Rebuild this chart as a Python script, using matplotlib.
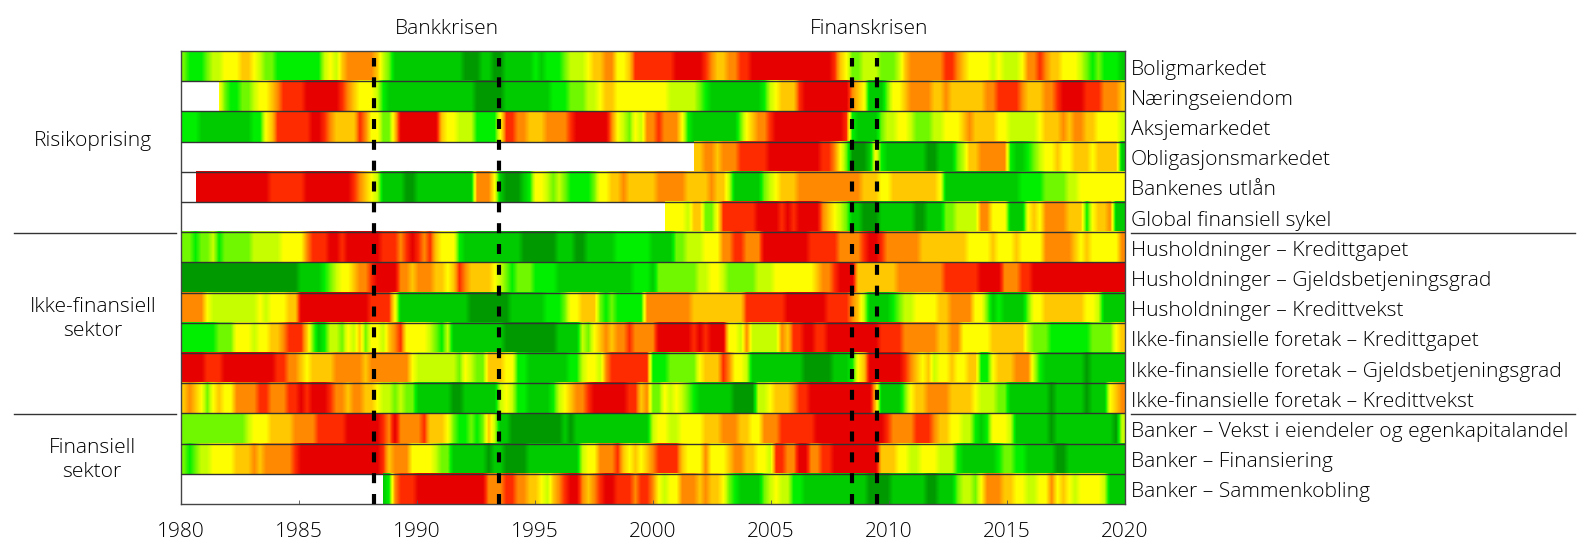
import numpy as np
import matplotlib
matplotlib.use('Agg')
import matplotlib.pyplot as plt
from matplotlib.colors import LinearSegmentedColormap
from matplotlib.lines import Line2D

plt.rcParams['font.family'] = ['Open Sans', 'DejaVu Sans']
plt.rcParams['font.weight'] = 'light'

n = np.nan

# quarterly heat values 1980-2019 plus the last sliver up to the 2020 edge, 0 = dark green ... 9 = dark red
boligmarkedet = [3,2,2,2, 3,4,4,5, 5,5,6,6, 5,4,3,3, 2,2,2,2, 2,2,2,2, 4,5,4,6, 7,7,7,7, 7,6,4,3, 1,1,1,1, 1,1,1,1, 1,1,1,1, 0,0,0,1, 1,0,0,1, 1,1,1,1, 2,1,2,2, 2,3,4,4, 4,5,6,6, 7,7,5,5, 6,8,8,8,
    8,8,8,8, 9,9,9,9, 9,8,7,6, 6,7,7,8, 8,9,9,9, 9,9,9,9, 9,9,9,9, 9,9,9,8, 6,5,3,3, 4,4,4,3, 3,3,4,6, 7,7,7,7, 7,7,8,8, 7,6,5,5, 5,5,4,5, 4,4,4,5, 7,7,8,7, 6,6,5,5, 5,4,3,2, 3,2,2,2, 1]
naeringseiendom = [n]*6 + [5,3, 2,2,3,3, 4,5,5,6, 7,8,8,8, 8,9,9,9, 9,9,9,8, 7,6,5,5, 5,4,2,1, 1,1,1,1, 1,1,1,1, 1,1,1,1, 1,1,0,0, 0,0,0,1, 1,1,1,1, 1,1,1,2, 2,2,3,3, 3,4,4,5, 6,6,5,5, 5,5,5,5,
    5,5,5,4, 4,4,4,4, 3,2,1,1, 1,1,1,1, 1,1,1,2, 4,5,6,6, 6,8,9,9, 9,9,9,9, 9,9,7,6, 5,1,1,1, 3,5,5,6, 7,7,7,7, 6,6,7,6, 6,6,6,6, 6,7,7,8, 8,8,8,7, 6,6,6,7, 7,8,9,9, 9,9,8,8, 8,7,7,7, 6]
aksjemarkedet = [2,2,2,1, 1,1,1,1, 1,1,1,1, 2,2,5,6, 8,8,8,8, 8,8,9,9, 8,7,6,6, 6,6,8,7, 5,5,3,3, 6,9,9,9, 9,9,9,9, 6,5,5,4, 4,4,2,2, 2,2,5,8, 8,7,7,6, 6,6,7,7, 7,7,8,9, 9,9,9,9, 9,7,5,4, 3,5,4,7,
    7,8,7,7, 7,5,2,1, 1,1,1,1, 1,1,1,3, 5,6,7,7, 8,9,9,9, 9,9,9,9, 9,9,9,9, 9,8,2,1, 1,1,1,3, 4,4,5,5, 4,3,3,3, 4,4,5,5, 5,6,7,6, 6,6,6,5, 5,4,4,4, 4,4,5,6, 6,6,7,6, 7,7,6,6, 5,5,5,5, 4]
obligasjonsmarkedet = [n]*87 + [6, 6,7,7,6, 7,7,7,8, 8,8,8,8, 9,9,9,9, 9,9,9,9, 9,8,8,7, 5,3,0,0, 0,1,5,2, 1,1,1,1, 1,1,1,0, 0,1,1,1, 3,4,6,6, 7,7,7,7, 7,2,1,1, 2,3,4,5, 5,6,5,5, 6,6,6,5, 6,6,6,6, 1]
bankenes_utlan = [n,n,9,9, 9,9,9,9, 9,9,9,9, 9,9,9,8, 8,8,8,8, 8,9,9,9, 9,9,9,9, 9,8,7,6, 5,4,1,1, 1,1,0,0, 1,1,1,1, 1,1,1,1, 1,1,7,7, 7,5,1,0, 0,0,1,2, 5,5,4,3, 4,3,2,2, 2,2,3,5, 5,6,6,7, 6,6,6,6,
    6,7,7,7, 7,7,6,6, 6,6,7,6, 6,4,1,1, 1,1,1,3, 4,5,6,6, 6,7,7,7, 7,7,7,7, 7,7,7,7, 6,6,6,5, 5,6,6,6, 6,6,6,6, 6,5,1,1, 1,1,1,1, 1,1,1,1, 1,1,1,2, 2,2,2,3, 3,3,3,4, 4,5,5,5, 5,5,5,5, 5]
global_sykel = [n]*82 + [5,5, 5,5,4,6, 6,3,3,5, 8,8,8,8, 8,8,9,9, 9,9,8,9, 8,9,9,9, 9,7,6,5, 4,3,1,1, 0,0,0,1, 1,1,1,1, 1,0,0,1, 1,1,3,3, 4,4,4,4, 7,7,5,5, 5,1,1,1, 5,6,5,7, 7,7,7,6, 6,6,2,5, 6,6,7,1, 1]
hus_gap = [3,3,2,3, 3,4,2,3, 3,3,3,3, 4,4,4,4, 4,5,5,5, 5,7,8,8, 8,9,9,8, 9,9,9,9, 9,9,8,8, 8,7,8,9, 8,7,8,6, 5,5,5,2, 1,1,1,1, 1,1,1,1, 1,1,0,0, 0,0,0,0, 1,1,1,0, 0,1,1,1, 1,1,2,2, 2,2,2,2,
    1,1,1,1, 3,3,4,4, 4,5,5,5, 7,7,8,8, 7,7,7,9, 9,9,9,9, 9,9,9,8, 8,8,8,8, 7,7,7,7, 8,9,9,8, 7,7,7,7, 7,7,6,6, 6,6,6,6, 6,6,5,5, 5,5,6,5, 5,5,6,5, 5,5,5,7, 7,7,7,7, 6,5,6,5, 5,5,5,5, 7]
hus_gjeld = [0,0,0,0, 0,0,0,0, 0,0,0,0, 0,0,0,0, 0,0,0,0, 1,1,1,1, 2,3,4,5, 5,6,7,7, 8,9,9,9, 9,7,7,6, 7,7,7,6, 6,5,6,8, 7,6,6,6, 6,5,4,3, 2,3,3,3, 2,2,2,2, 1,1,1,1, 1,1,1,1, 1,1,1,1, 1,2,2,2,
    1,3,3,3, 3,3,3,3, 4,4,5,5, 4,3,3,3, 3,3,4,4, 4,5,5,5, 5,5,5,5, 6,7,7,8, 9,9,9,6, 6,6,6,6, 6,6,7,7, 7,7,7,7, 7,7,8,8, 8,8,8,8, 9,9,9,9, 7,7,7,8, 8,9,9,9, 9,9,9,9, 9,9,9,9, 9,9,9,9, 9]
hus_vekst = [7,7,7,7, 5,4,4,4, 4,4,4,4, 4,5,4,5, 5,5,6,6, 9,9,9,9, 9,9,9,9, 9,9,9,9, 8,8,8,8, 5,1,1,1, 1,1,1,1, 1,1,1,1, 1,0,0,0, 0,0,0,0, 1,1,1,1, 1,1,2,2, 2,3,5,5, 6,6,6,3, 2,3,2,2, 2,2,2,7,
    7,7,7,7, 7,7,7,6, 6,6,6,6, 6,6,6,6, 8,8,8,8, 8,8,8,9, 9,9,9,9, 9,9,8,8, 8,8,7,6, 4,1,1,1, 1,2,3,4, 4,5,5,5, 5,6,6,7, 7,7,7,5, 5,3,1,2, 1,1,1,1, 3,5,5,6, 6,6,6,6, 6,6,5,5, 4,1,1,1, 1]
foretak_gap = [2,2,2,2, 2,2,3,3, 3,5,5,5, 4,5,5,6, 6,7,8,8, 8,6,3,1, 2,4,4,3, 5,4,6,3, 5,5,4,6, 7,8,5,5, 5,5,4,3, 2,4,1,1, 1,1,1,1, 1,1,1,0, 0,0,0,0, 0,0,0,0, 1,1,1,1, 4,3,5,6, 7,6,7,7, 8,7,7,7,
    7,9,9,9, 9,9,9,8, 9,8,9,9, 9,5,5,4, 7,4,4,4, 4,4,7,6, 8,8,9,9, 8,8,9,9, 9,9,9,9, 9,9,9,8, 8,8,8,7, 7,7,7,7, 7,6,6,7, 7,5,5,5, 5,5,6,6, 6,6,6,6, 4,3,3,3, 2,2,2,2, 2,2,2,3, 3,3,3,5, 6]
foretak_gjeld = [9,9,9,9, 8,8,8,9, 9,9,9,9, 9,9,9,9, 8,8,7,7, 6,5,6,6, 6,6,7,7, 7,7,7,6, 7,7,7,7, 7,7,7,5, 4,4,4,4, 4,4,4,3, 5,4,3,3, 6,6,6,5, 5,2,2,1, 1,1,1,1, 1,1,2,2, 4,5,5,4, 7,8,8,8, 8,8,8,8,
    2,2,2,3, 3,3,3,3, 5,6,6,6, 8,7,5,5, 4,1,1,1, 1,1,1,1, 1,1,0,0, 0,0,0,1, 1,1,2,5, 6,9,9,9, 9,9,9,8, 7,6,5,6, 4,5,5,6, 5,5,6,6, 2,2,5,6, 6,6,7,7, 7,4,2,1, 1,1,1,1, 1,1,0,1, 1,1,1,1, 1]
foretak_vekst = [6,7,6,5, 3,5,6,5, 5,7,7,7, 7,8,8,7, 7,7,8,8, 9,8,9,9, 9,8,7,7, 6,7,7,6, 6,5,4,4, 3,4,3,3, 1,1,1,1, 1,1,0,0, 1,1,1,1, 1,1,4,5, 4,2,2,1, 1,1,1,2, 4,5,6,7, 7,8,9,9, 9,9,9,9, 8,8,6,7,
    3,3,5,4, 5,4,3,2, 1,1,1,1, 1,1,0,0, 0,0,4,4, 5,6,6,6, 7,8,8,9, 9,9,9,9, 9,9,9,9, 9,9,6,1, 1,1,1,3, 5,6,6,7, 7,7,7,6, 6,6,6,5, 4,4,4,3, 3,1,1,1, 1,1,1,1, 0,1,1,1, 1,1,0,1, 1,1,5,6, 7]
bank_vekst = [3,3,3,3, 3,3,3,3, 3,3,3,4, 5,5,5,6, 6,6,6,7, 7,7,7,8, 8,8,8,8, 9,9,9,9, 9,9,8,7, 9,7,7,7, 7,8,6,6, 6,5,3,2, 2,3,2,3, 6,4,1,1, 0,0,0,0, 0,0,0,0, 0,1,0,1, 1,1,1,1, 1,1,1,1, 1,1,1,1,
    4,5,5,4, 4,5,5,5, 5,6,6,6, 7,7,7,6, 6,5,5,7, 7,7,8,8, 8,8,8,8, 9,9,9,9, 9,9,9,9, 9,9,9,9, 8,7,7,7, 7,8,8,8, 7,6,6,5, 5,4,4,2, 1,2,5,5, 5,4,1,1, 1,1,1,1, 0,1,1,1, 1,1,1,1, 1,1,1,0, 4]
bank_finansiering = [3,2,3,4, 4,5,5,5, 5,6,6,6, 7,6,7,7, 7,7,7,8, 9,9,9,9, 9,9,9,9, 9,9,9,9, 9,9,8,6, 7,7,7,5, 5,5,5,4, 3,3,1,1, 1,1,1,1, 0,1,1,0, 0,0,0,1, 1,1,1,1, 1,1,1,1, 4,5,5,7, 7,7,8,6, 5,6,5,6,
    7,8,8,8, 8,6,5,5, 5,7,5,5, 5,6,7,7, 6,6,5,5, 4,8,8,7, 7,9,9,7, 7,8,8,9, 9,9,9,9, 9,9,9,6, 6,6,5,5, 4,4,5,5, 5,4,4,4, 2,1,1,1, 1,1,1,2, 3,3,2,2, 1,1,1,1, 1,0,0,1, 1,1,1,1, 1,1,1,1, 1]
bank_kobling = [n]*34 + [1,2, 7,8,8,8, 9,9,9,9, 9,9,9,9, 9,9,9,9, 7,7,7,8, 8,7,7,6, 6,5,4,6, 7,8,9,9, 7,6,7,8, 9,9,8,8, 8,7,8,8,
    7,5,4,5, 5,7,7,7, 6,7,6,6, 5,3,2,1, 1,1,1,3, 4,5,4,4, 2,2,1,1, 1,1,1,1, 1,1,1,1, 1,0,0,0, 0,1,1,1, 1,1,1,0, 0,1,1,1, 3,4,4,3, 5,7,7,7, 6,6,5,5, 4,4,5,5, 7,5,6,5, 4,5,5,5, 5,4,1,1, 1]

rows = [boligmarkedet, naeringseiendom, aksjemarkedet, obligasjonsmarkedet, bankenes_utlan, global_sykel,
        hus_gap, hus_gjeld, hus_vekst, foretak_gap, foretak_gjeld, foretak_vekst,
        bank_vekst, bank_finansiering, bank_kobling]
row_labels = ['Boligmarkedet', 'Næringseiendom', 'Aksjemarkedet', 'Obligasjonsmarkedet', 'Bankenes utlån',
              'Global finansiell sykel', 'Husholdninger – Kredittgapet', 'Husholdninger – Gjeldsbetjeningsgrad',
              'Husholdninger – Kredittvekst', 'Ikke-finansielle foretak – Kredittgapet',
              'Ikke-finansielle foretak – Gjeldsbetjeningsgrad', 'Ikke-finansielle foretak – Kredittvekst',
              'Banker – Vekst i eiendeler og egenkapitalandel', 'Banker – Finansiering', 'Banker – Sammenkobling']
crisis_dates = [1988.2, 1993.5, 2008.45, 2009.5]
year_ticks = [1980, 1985, 1990, 1995, 2000, 2005, 2010, 2015, 2020]

W, H = 1594, 557
colors = ['#009a00', '#00cc00', '#00f000', '#70f800', '#c8ff00', '#ffff00', '#ffc800', '#ff8c00', '#ff2c00', '#e60000']
cmap = LinearSegmentedColormap.from_list('risk', colors)
cmap.set_bad((1, 1, 1, 0))

fig = plt.figure(figsize=(W / 100, H / 100), dpi=100)
ax = fig.add_axes([180.7 / W, 1 - 504 / H, (1124.7 - 180.7) / W, (504 - 51) / H])

for i, r in enumerate(rows):
    vals = np.ma.masked_invalid(np.array(r, dtype=float))
    ax.imshow(np.vstack([vals, vals]), cmap=cmap, vmin=0, vmax=9, aspect='auto',
              extent=[1980, 2020, i + 1, i], interpolation='bilinear')
    if i > 0:
        ax.axhline(i, color='#333333', lw=1, zorder=3)
ax.set_xlim(1980, 2020)
ax.set_ylim(15, 0)

for d in crisis_dates:
    ax.plot([d, d], [14.99, 0.23], color='black', lw=3, dashes=(2.4, 2.6), zorder=4)

ax.set_yticks([])
ax.set_xticks(year_ticks)
ax.tick_params(axis='x', direction='in', length=3, width=0.6, color='#555555', pad=13, labelsize=15)
for s in ax.spines.values():
    s.set_color('#444444')
    s.set_linewidth(1)

for i, lab in enumerate(row_labels):
    fig.text(1131 / W, 1 - (51 + (i + 0.5) * 30.2 + 3.5) / H, lab, fontsize=15.1, va='center', ha='left')


def label(x, y, s):
    fig.text(x / W, 1 - y / H, s, fontsize=15.1, ha='center', va='center')


label(447, 29, 'Bankkrisen')
label(869, 29, 'Finanskrisen')
label(93, 141, 'Risikoprising')
label(93, 307, 'Ikke-finansiell')
label(93, 331, 'sektor')
label(92, 448, 'Finansiell')
label(92, 472, 'sektor')

for y in [232.5, 414]:
    for x0, x1 in [(14, 176), (1131, 1575)]:
        fig.add_artist(Line2D([x0 / W, x1 / W], [1 - y / H, 1 - y / H], color='#333333', lw=1))

fig.savefig('out.png', dpi=100)
